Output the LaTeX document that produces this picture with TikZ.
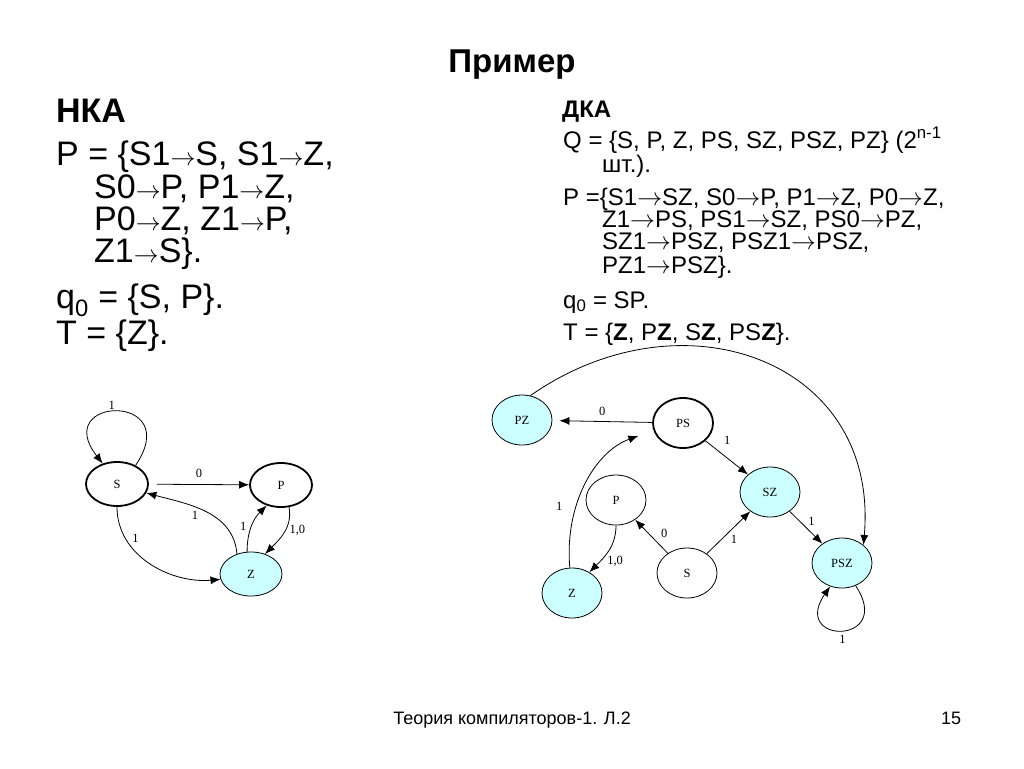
\documentclass[tikz,border=0pt]{standalone}
\usepackage{fontspec}
\setmainfont{Liberation Sans}
\newfontfamily\graphfont{Liberation Serif}
\usetikzlibrary{shapes.geometric,arrows.meta}
\definecolor{finalfill}{RGB}{204,255,255}
\newcommand\tto{\ensuremath{\rightarrow}}
\begin{document}
\begin{tikzpicture}[x=1pt,y=1pt]
	\tikzstyle{state}=[ellipse,draw,line width=0.8pt,minimum width=60pt,minimum height=50pt,inner sep=0pt,font=\graphfont\fontsize{12.5}{14}\selectfont]
	\tikzstyle{bold state}=[state,line width=1.8pt]
	\tikzstyle{final}=[fill=finalfill]
	\tikzstyle{edge}=[line width=0.8pt,-{Latex[length=10pt,width=8pt]}]
	\tikzstyle{lbl}=[font=\graphfont\fontsize{12.5}{14}\selectfont,inner sep=2pt]
	\tikzstyle{bigline}=[anchor=base west,inner sep=0pt,font=\fontsize{34}{34}\selectfont]
	\tikzstyle{smallline}=[anchor=base west,inner sep=0pt,font=\fontsize{24}{24}\selectfont]
	\fill[white] (0,0) rectangle (1024,-768);
	\useasboundingbox (0,0) rectangle (1024,-768);

	\node[anchor=base,inner sep=0pt,font=\bfseries\fontsize{33}{33}\selectfont] (title) at (512,-72) {Пример};

	\node[bigline] (nka) at (56,-122) {\bfseries НКА};
	\node[bigline] (nkaA) at (56,-165) {P = \{S1\tto S, S1\tto Z,};
	\node[bigline] (nkaB) at (94,-198) {S0\tto P, P1\tto Z,};
	\node[bigline] (nkaC) at (94,-230) {P0\tto Z, Z1\tto P,};
	\node[bigline] (nkaD) at (94,-262) {Z1\tto S\}.};
	\node[bigline] (nkaQ) at (56,-308) {q\textsubscript{0} = \{S, P\}.};
	\node[bigline] (nkaT) at (56,-344) {T = \{Z\}.};

	\node[smallline] (dka) at (562,-117) {\bfseries ДКА};
	\node[smallline] (dkaQ) at (563,-148) {Q = \{S, P, Z, PS, SZ, PSZ, PZ\} (2\textsuperscript{n-1}};
	\node[smallline] (dkaQb) at (602,-172) {шт.).};
	\node[smallline] (dkaA) at (563,-205) {P =\{S1\tto SZ, S0\tto P, P1\tto Z, P0\tto Z,};
	\node[smallline] (dkaB) at (602,-227) {Z1\tto PS, PS1\tto SZ, PS0\tto PZ,};
	\node[smallline] (dkaC) at (602,-249) {SZ1\tto PSZ, PSZ1\tto PSZ,};
	\node[smallline] (dkaD) at (602,-273) {PZ1\tto PSZ\}.};
	\node[smallline] (dkaQ0) at (563,-308) {q\textsubscript{0} = SP.};
	\node[smallline] (dkaT) at (563,-340) {T = \{\textbf{Z}, P\textbf{Z}, S\textbf{Z}, PS\textbf{Z}\}.};

	\node[bold state,minimum width=62pt,minimum height=44pt] (nS) at (117,-484) {S};
	\node[bold state,minimum width=62pt,minimum height=44pt] (nP) at (281,-485) {P};
	\node[state,final,minimum width=62pt,minimum height=44pt] (nZ) at (251,-574) {Z};

	\draw[edge] (nS.45) .. controls (185,-392) and (50,-396) .. (nS.125) node[lbl,pos=0.55,above]{1};
	\draw[edge,shorten <=8pt] (nS) -- (nP) node[lbl,midway,above=4pt]{0};
	\draw[edge] (nZ.125) to[out=95,in=-15] node[lbl,pos=0.55,below left]{1} (nS.-17);
	\draw[edge] (nZ.100) to[out=90,in=225] node[lbl,pos=0.5,left=3pt]{1} (nP.235);
	\draw[edge] (nP.-70) to[out=-80,in=45] node[lbl,pos=0.45,right=2pt]{1,0} (nZ.55);
	\draw[edge] (nS.-90) to[out=-90,in=185] node[lbl,pos=0.3,above right]{1} (nZ.190);

	\node[state,final] (dPZ) at (522,-420) {PZ};
	\node[bold state] (dPS) at (683,-423) {PS};
	\node[state,final] (dSZ) at (770,-492) {SZ};
	\node[state] (dP) at (616,-500) {P};
	\node[state,final] (dZ) at (572,-593) {Z};
	\node[state] (dS) at (687,-573) {S};
	\node[state,final] (dPSZ) at (842,-563) {PSZ};

	\draw[edge,shorten >=7pt] (dPS) -- (dPZ) node[lbl,midway,above=3pt]{0};
	\draw[edge] (dPS) -- (dSZ) node[lbl,pos=0.1,right=12pt,yshift=4pt]{1};
	\draw[edge] (dSZ) -- (dPSZ) node[lbl,midway,above right]{1};
	\draw[edge] (dS) -- (dP) node[lbl,pos=0.4,above right,xshift=4pt]{0};
	\draw[edge] (dS) -- (dSZ) node[lbl,midway,below right]{1};
	\draw[edge] (dP.-90) to[out=-90,in=45] node[lbl,pos=0.75,right=5pt]{1,0} (dZ.50);
	\draw[edge,shorten >=16pt] (dZ.95) to[out=95,in=200] node[lbl,pos=0.35,left=12pt]{1} (dPS.194);
	\draw[edge] (dPZ.71) to[out=35,in=85,looseness=1.3] (dPSZ.40);
	\draw[edge] (dPSZ.-59) .. controls (895,-645) and (790,-645) .. (dPSZ.-117) node[lbl,pos=0.5,below=3pt]{1};

	\node[anchor=base,inner sep=0pt,font=\fontsize{18}{18}\selectfont] (foot) at (512,-724) {Теория компиляторов-1. Л.2};
	\node[anchor=base,inner sep=0pt,font=\fontsize{18}{18}\selectfont] (page) at (951,-724) {15};
\end{tikzpicture}
\end{document}
